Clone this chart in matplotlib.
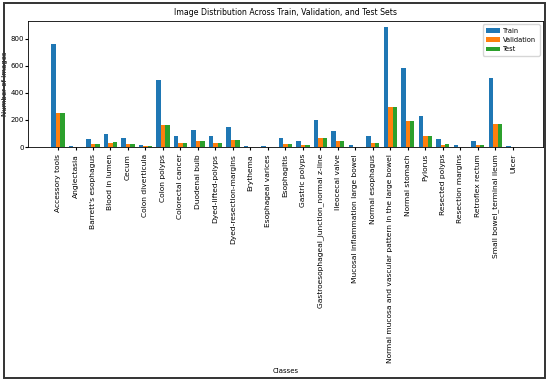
import numpy as np
import matplotlib.pyplot as plt
from matplotlib import font_manager
from matplotlib.patches import Rectangle

# Classes and image counts per split
classes = [
    "Accessory tools", "Angiectasia", "Barrett's esophagus", "Blood in lumen",
    "Cecum", "Colon diverticula", "Colon polyps", "Colorectal cancer",
    "Duodenal bulb", "Dyed-lifted-polyps", "Dyed-resection-margins", "Erythema",
    "Esophageal varices", "Esophagitis", "Gastric polyps",
    "Gastroesophageal_junction_normal z-line", "Ileocecal valve",
    "Mucosal inflammation large bowel", "Normal esophagus",
    "Normal mucosa and vascular pattern in the large bowel", "Normal stomach",
    "Pylorus", "Resected polyps", "Resection margins", "Retroflex rectum",
    "Small bowel_terminal ileum", "Ulcer",
]
train = [760, 10, 57, 99, 70, 18, 496, 85, 129, 85, 151, 10, 5, 67, 42,
         198, 122, 18, 85, 887, 582, 233, 57, 18, 42, 508, 5]
val = [254, 3, 20, 32, 25, 5, 166, 28, 42, 28, 50, 3, 1, 21, 13,
       67, 42, 4, 30, 295, 196, 82, 18, 4, 12, 169, 1]
test = [254, 3, 20, 38, 25, 5, 166, 28, 42, 28, 50, 3, 1, 21, 13,
        67, 42, 4, 30, 295, 196, 82, 22, 4, 12, 169, 1]

# narrow font for horizontal text if one is installed
nomes = {f.name for f in font_manager.fontManager.ttflist}
narrow = 'DejaVu Sans'
for cand in ['Liberation Sans Narrow', 'DejaVu Sans Condensed']:
    if cand in nomes:
        narrow = cand
        break

fig = plt.figure(figsize=(5.5, 3.82), dpi=100)
ax = fig.add_axes([0.051, 0.615, 0.936, 0.33])

x = np.arange(len(classes))
w = 0.25
ax.bar(x - w, train, w, label='Train', color='#1f77b4')
ax.bar(x, val, w, label='Validation', color='#ff7f0e')
ax.bar(x + w, test, w, label='Test', color='#2ca02c')

ax.set_xticks(x)
ax.set_xticklabels(classes, rotation=90, fontsize=5.4)
ax.set_yticks([0, 200, 400, 600, 800])
ax.tick_params(axis='y', labelsize=5, length=2, pad=1)
ax.tick_params(axis='x', length=2, pad=3)
for t in ax.get_yticklabels():
    t.set_family(narrow)

ax.set_title('Image Distribution Across Train, Validation, and Test Sets',
             fontsize=5.6, family=narrow, pad=4)
ax.set_ylabel('Number of Images', fontsize=5, labelpad=2)
ax.set_xlabel('Classes', fontsize=5, family=narrow)
ax.xaxis.set_label_coords(0.5, -1.75)
ax.legend(prop={'family': narrow, 'size': 4.8}, loc='upper right',
          handlelength=2.0, borderpad=0.5, labelspacing=0.5,
          handletextpad=0.5)

for s in ax.spines.values():
    s.set_linewidth(0.6)

# moldura da figura
fig.patches.append(Rectangle((3.5 / 550, 4 / 382), 541.5 / 550, 375 / 382,
                             transform=fig.transFigure, fill=False,
                             edgecolor='#333333', linewidth=1.4))

plt.savefig('out.png', dpi=100)
